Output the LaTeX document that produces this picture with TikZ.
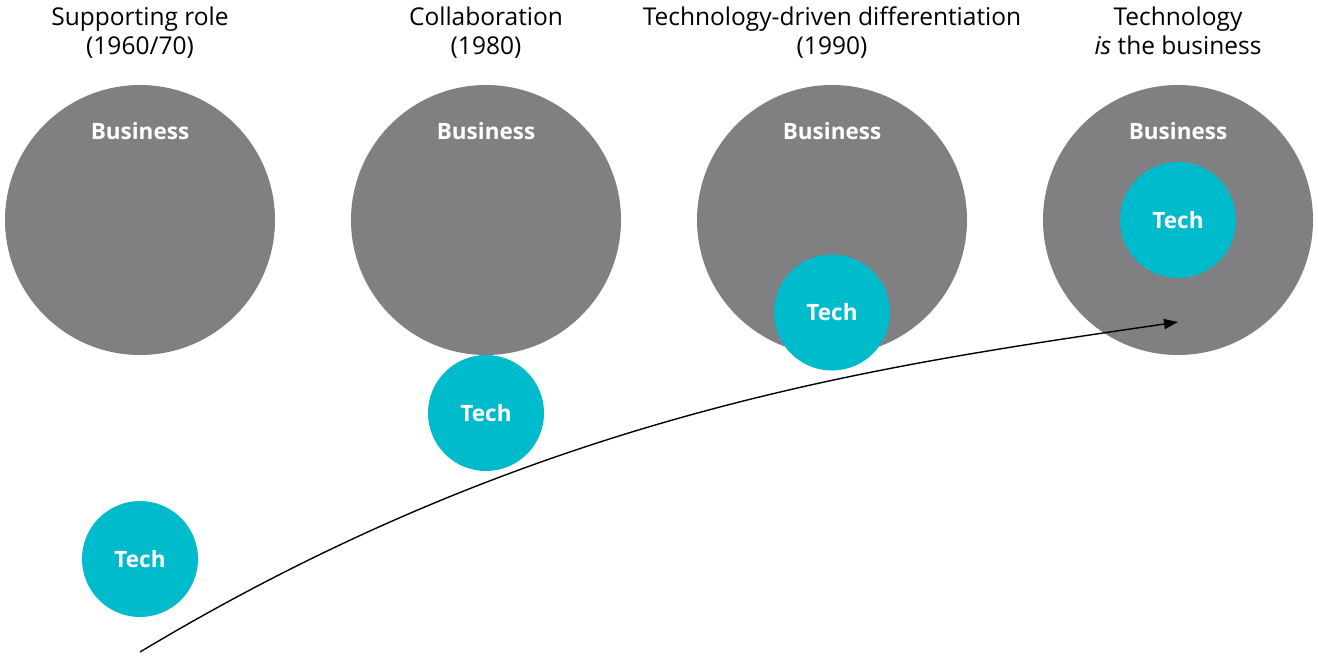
\documentclass[tikz,border=0pt]{standalone}
\usepackage{fontspec}
\setmainfont{Open Sans}
\usetikzlibrary{arrows.meta}
\definecolor{bizgray}{RGB}{128,128,131}
\definecolor{techteal}{RGB}{0,187,204}
\tikzset{
  biz/.style={circle, fill=bizgray, minimum size=270pt, inner sep=0pt},
  tech/.style={circle, fill=techteal, minimum size=116pt, inner sep=0pt, text=white, font=\bfseries\fontsize{22.5}{26}\selectfont},
  bizlabel/.style={text=white, font=\bfseries\fontsize{22.5}{26}\selectfont, anchor=base},
  head/.style={align=center, font=\fontsize{24.5}{29}\selectfont, anchor=base, text=black},
  trend/.style={line width=1.4pt, -{Triangle[length=14pt,width=10pt]}}
}
\begin{document}
\begin{tikzpicture}[x=1pt,y=-1pt]
\useasboundingbox (0,0) rectangle (1319,664);
% headings
\node[head] (h1) at (140,54) {Supporting role\\(1960/70)};
\node[head] (h2) at (486,54) {Collaboration\\(1980)};
\node[head] (h3) at (832,54) {Technology-driven differentiation\\(1990)};
\node[head] (h4) at (1178,54) {Technology\\\textit{is} the business};
% business circles
\foreach \i/\x in {1/140,2/486,3/832,4/1178}{
  \node[biz] (b\i) at (\x,220) {};
  \node[bizlabel] (bl\i) at (\x,139) {Business};
}
% tech circles
\node[tech] (t1) at (140,559) {Tech};
\node[tech] (t2) at (486,413) {Tech};
\node[tech] (t3) at (832,312.5) {Tech};
\node[tech] (t4) at (1178,220) {Tech};
% trend arrow
\coordinate (s) at (140,652);
\coordinate (e) at (1178,322);
\draw[trend] (s) .. controls (540,412) and (878,366) .. (e);
\end{tikzpicture}
\end{document}
